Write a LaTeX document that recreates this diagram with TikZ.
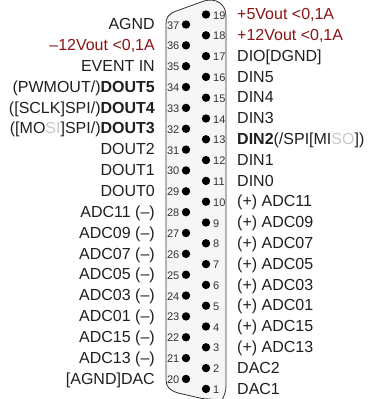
\documentclass[tikz,border=0pt]{standalone}
\usepackage{fontspec}
\setmainfont{Liberation Sans}
\definecolor{dred}{RGB}{140,20,20}
\definecolor{ghost}{RGB}{200,200,200}
\definecolor{shell}{RGB}{246,246,246}
\definecolor{pinnum}{RGB}{50,50,50}
\tikzset{
  lab/.style={inner sep=0pt,font=\fontsize{16}{16}\selectfont,text=black!88},
  leftlab/.style={lab,anchor=base east},
  rightlab/.style={lab,anchor=base west},
  pindot/.style={circle,fill=black,inner sep=0pt,minimum size=8.4pt},
  pinl/.style={inner sep=0pt,anchor=base east,font=\fontsize{11}{11}\selectfont,text=pinnum},
  pinr/.style={inner sep=0pt,anchor=base west,font=\fontsize{11}{11}\selectfont,text=pinnum},
  shellline/.style={draw=black!80,fill=shell,line width=0.8pt}
}
\begin{document}
\begin{tikzpicture}[x=1pt,y=-1pt]
\useasboundingbox (0,0) rectangle (377,399);
\draw[shellline] (166,24) .. controls (166,18) and (168,14.5) .. (175,11.5) -- (204,1) .. controls (216,-2.5) and (226,4) .. (226,16) -- (226,386) .. controls (226,392) and (224,396) .. (222,400) -- (202,398.5) -- (178,393) .. controls (170,390.5) and (166,387) .. (166,380) -- cycle;
\foreach \n [count=\i from 0] in {37,36,...,20}{
  \pgfmathsetmacro{\yy}{24.5+20.85*\i}
  \node[pindot] (p\n) at (186,\yy) {};
  \node[pinl] (n\n) at (179.5,\yy+4.5) {\n};
}
\foreach \n [count=\i from 0] in {19,18,...,1}{
  \pgfmathsetmacro{\yy}{14.5+20.8*\i}
  \node[pindot] (p\n) at (206,\yy) {};
  \node[pinr] (n\n) at (213,\yy+4.5) {\n};
}
\foreach \n/\t in {37/AGND,36/{\textcolor{dred}{–12Vout <0,1A}},35/EVENT IN,34/{(PWMOUT/)\textbf{DOUT5}},33/{([SCLK]SPI/)\textbf{DOUT4}},32/{([MO\textcolor{ghost}{SI}]SPI/)\textbf{DOUT3}},31/DOUT2,30/DOUT1,29/DOUT0,28/ADC11 (–),27/ADC09 (–),26/ADC07 (–),25/ADC05 (–),24/ADC03 (–),23/ADC01 (–),22/ADC15 (–),21/ADC13 (–),20/{[AGND]DAC}}{
  \path (p\n) ++(-31,5.2) node[leftlab] (l\n) {\t};
}
\foreach \n/\t in {19/{\textcolor{dred}{+5Vout <0,1A}},18/{\textcolor{dred}{+12Vout <0,1A}},17/{DIO[DGND]},16/DIN5,15/DIN4,14/DIN3,13/{\textbf{DIN2}(/SPI[MI\textcolor{ghost}{SO}])},12/DIN1,11/DIN0,10/(+) ADC11,9/(+) ADC09,8/(+) ADC07,7/(+) ADC05,6/(+) ADC03,5/(+) ADC01,4/(+) ADC15,3/(+) ADC13,2/DAC2,1/DAC1}{
  \path (p\n) ++(31,5.2) node[rightlab] (r\n) {\t};
}
\end{tikzpicture}
\end{document}
